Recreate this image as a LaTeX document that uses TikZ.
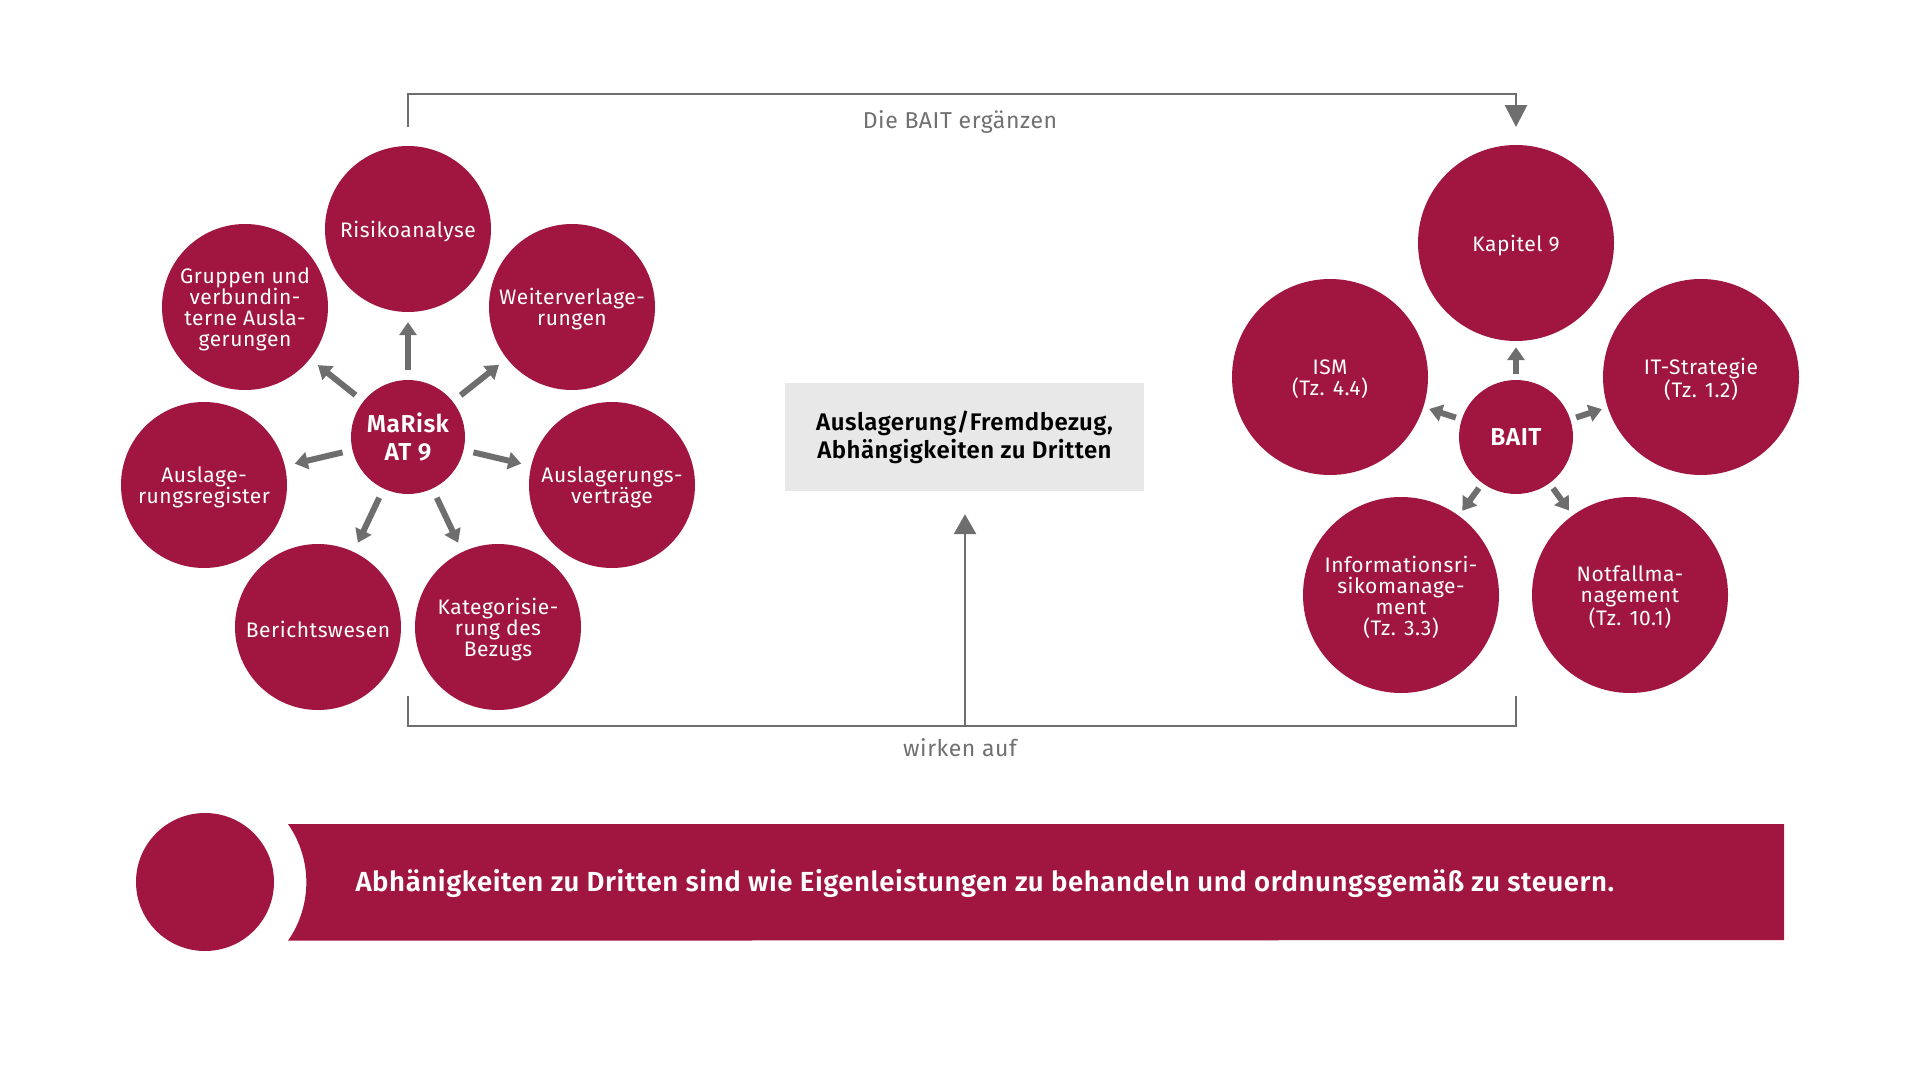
\documentclass[tikz,border=0pt]{standalone}
\usepackage{fontspec}
\setmainfont{Fira Sans}[BoldFont={Fira Sans SemiBold}]
\newfontfamily\cfont{Fira Sans}[LetterSpace=2.5]
\newfontfamily\bfont{Fira Sans SemiBold}[LetterSpace=2]
\usetikzlibrary{arrows.meta}
\definecolor{crim}{RGB}{160,22,65}
\definecolor{agray}{RGB}{110,110,110}
\definecolor{lgray}{RGB}{112,112,112}
\definecolor{boxgray}{RGB}{232,232,232}
\begin{document}
\begin{tikzpicture}[x=1pt,y=-1pt,
  sat/.style={circle,fill=crim,inner sep=0pt},
  satL/.style={sat,minimum size=166pt},
  satR/.style={sat,minimum size=196pt},
  stxt/.style={text=white,inner sep=0pt,align=center,yshift=-2.5pt,font=\cfont\fontsize{21}{21}\selectfont},
  hub/.style={circle,fill=crim,text=white,inner sep=0pt,minimum size=114pt,align=center,font=\bfont\fontsize{24.5}{28}\selectfont},
  spoke/.style={draw=agray,line width=6pt,-{Triangle[length=13pt,width=17pt]}},
  spokeL/.style={spoke,shorten <=10pt,shorten >=10pt},
  spokeR/.style={spoke,shorten <=6pt,shorten >=6pt},
  bracket/.style={draw=agray,line width=2.8pt},
  lbl/.style={text=lgray,font=\cfont\fontsize{23}{26}\selectfont}
]
\fill[white] (0,0) rectangle (1920,1081);
\useasboundingbox (0,0) rectangle (1920,1081);

% left cluster
\node[hub] (mar) at (408,437) {MaRisk\\AT 9};
\node[satL] (ris) at (408,229) {};
\node[satL] (gru) at (245,307) {};
\node[satL] (wei) at (572,307) {};
\node[satL] (reg) at (204,485) {};
\node[satL] (ver) at (612,485) {};
\node[satL] (ber) at (318,627) {};
\node[satL] (kat) at (498,627) {};
\node[stxt] (tris) at (ris) {Risikoanalyse};
\node[stxt] (tgru) at (gru) {Gruppen und\\verbundin-\\terne Ausla-\\gerungen};
\node[stxt] (twei) at (wei) {Weiterverlage-\\rungen};
\node[stxt] (treg) at (reg) {Auslage-\\rungsregister};
\node[stxt] (tver) at (ver) {Auslagerungs-\\verträge};
\node[stxt] (tber) at (ber) {Berichtswesen};
\node[stxt] (tkat) at (kat) {Kategorisie-\\rung des\\Bezugs};
\foreach \t in {ris,gru,wei,reg,ver,ber,kat} \draw[spokeL] (mar) -- (\t);

% right cluster
\node[hub] (bait) at (1516,437) {BAIT};
\node[satR] (kap) at (1516,243) {};
\node[satR] (ism) at (1330,377) {};
\node[satR] (its) at (1701,377) {};
\node[satR] (irm) at (1401,595) {};
\node[satR] (not) at (1630,595) {};
\node[stxt] (tkap) at (kap) {Kapitel 9};
\node[stxt] (tism) at (ism) {ISM\\(Tz. 4.4)};
\node[stxt] (tits) at (its) {IT-Strategie\\(Tz. 1.2)};
\node[stxt] (tirm) at (irm) {Informationsri-\\sikomanage-\\ment\\(Tz. 3.3)};
\node[stxt] (tnot) at (not) {Notfallma-\\nagement\\(Tz. 10.1)};
\foreach \t in {kap,ism,its,irm,not} \draw[spokeR] (bait) -- (\t);

% center box
\node[fill=boxgray,minimum width=359pt,minimum height=108pt,align=center,
  font=\bfont\fontsize{24}{28}\selectfont] (box) at (964.5,437) {Auslagerung/Fremdbezug,\\Abhängigkeiten zu Dritten};

% top bracket
\coordinate (tl) at (408,127);
\coordinate (tr) at (1516,127);
\draw[bracket,-{Triangle[length=22pt,width=22pt]}] (tl) -- (408,94) -- (1516,94) -- (tr);
\node[lbl] (l1) at (960,122) {Die BAIT ergänzen};

% bottom bracket
\coordinate (bl) at (408,696);
\coordinate (br) at (1516,696);
\coordinate (bm) at (965,726);
\draw[bracket] (bl) -- (408,726) -- (1516,726) -- (br);
\draw[bracket,-{Triangle[length=20pt,width=22pt]},shorten >=23pt] (bm) -- (box.south -| bm);
\node[lbl] (l2) at (960,748) {wirken auf};

% banner
\fill[crim] (1784,824) -- (288,824) arc[start angle=34.9,end angle=-34.9,radius=102pt] -- (1784,940) -- cycle;
\node[circle,fill=crim,minimum size=138pt,inner sep=0pt] (dot) at (205,882) {};
\node[anchor=west,text=white,font=\bfont\fontsize{27.6}{32}\selectfont] (bt) at (352,883) {Abhänigkeiten zu Dritten sind wie Eigenleistungen zu behandeln und ordnungsgemäß zu steuern.};
\end{tikzpicture}
\end{document}
